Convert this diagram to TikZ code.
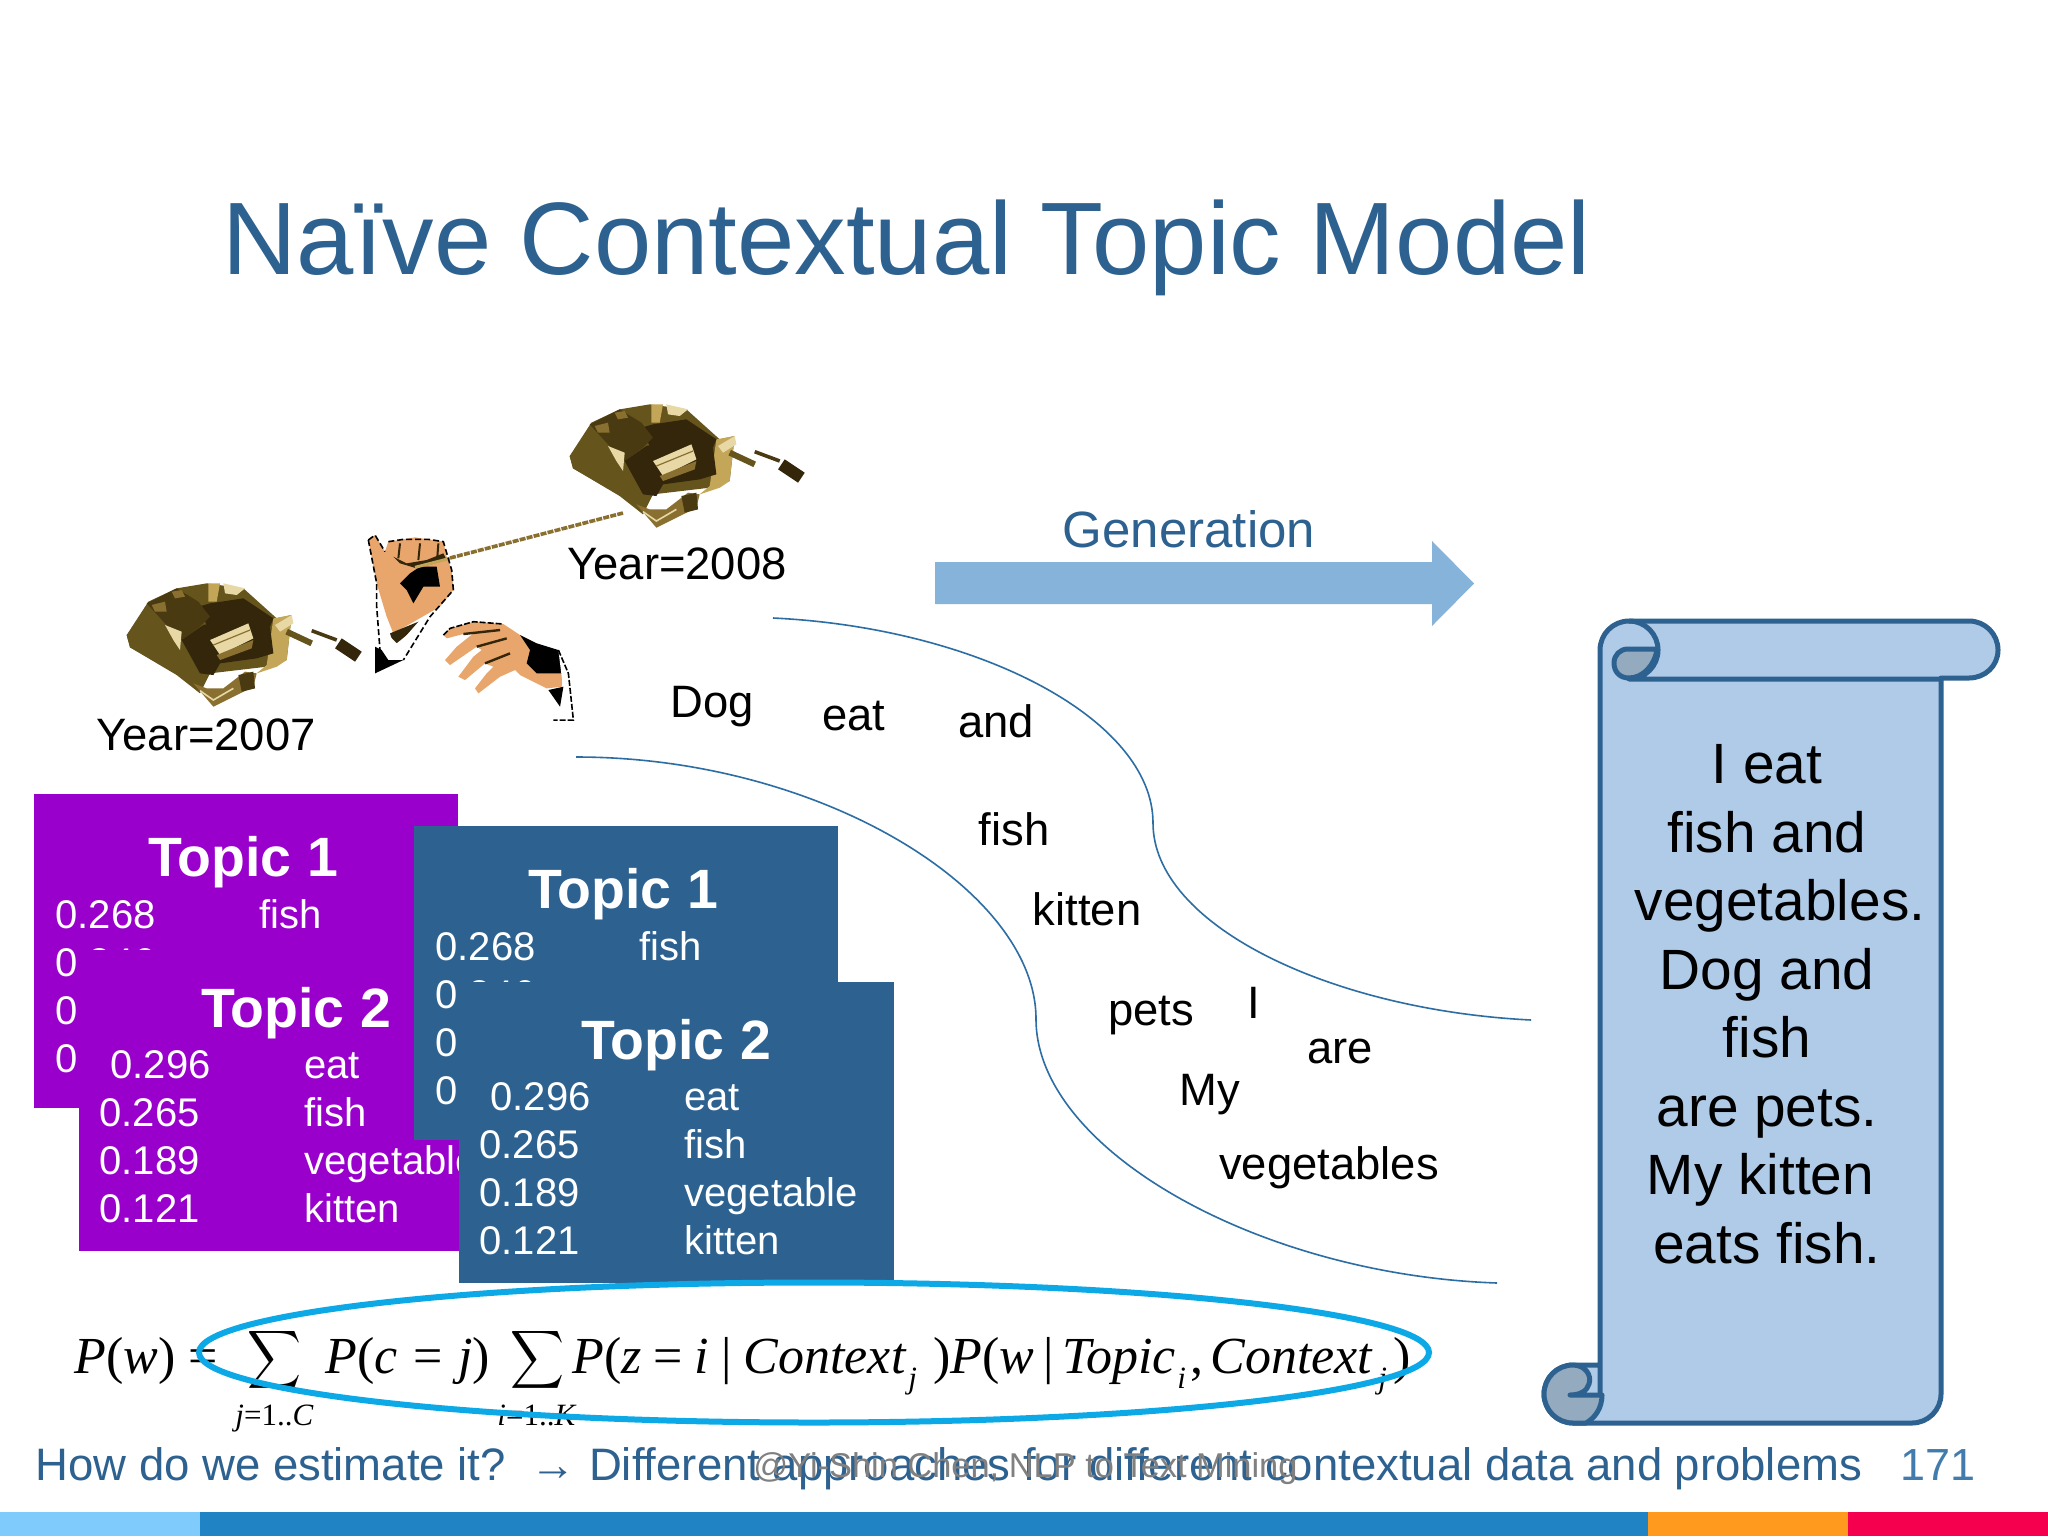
\documentclass[tikz,border=0pt]{standalone}
\usepackage{fontspec}
\setmainfont{Liberation Sans}
\newfontfamily\formulafont{Liberation Serif}

\definecolor{slideblue}{HTML}{2D6190}
\definecolor{cardpurple}{HTML}{9900CC}
\definecolor{scrollfill}{HTML}{AFCBE7}
\definecolor{scrollshade}{HTML}{93AABF}
\definecolor{arrowblue}{HTML}{85B3D9}
\definecolor{ringblue}{HTML}{0CA9E6}
\definecolor{curveblue}{HTML}{2C6DA4}
\definecolor{skin}{HTML}{E8A56C}
\definecolor{barlight}{HTML}{7FCBFC}
\definecolor{barblue}{HTML}{2083C4}
\definecolor{barorange}{HTML}{FF9A1E}
\definecolor{barpink}{HTML}{F5004F}
\definecolor{brassdark}{HTML}{33260B}
\definecolor{brassdeep}{HTML}{4A3A12}
\definecolor{brassolive}{HTML}{65541C}
\definecolor{brassmid}{HTML}{8A7030}
\definecolor{brassgold}{HTML}{C4A658}
\definecolor{brasspale}{HTML}{E7D8A5}

\tikzset{
    titletext/.style={anchor=base west, inner sep=0, text=slideblue, font=\fontsize{51.5}{60}\selectfont},
    footertext/.style={anchor=base west, inner sep=0, text=slideblue, font=\fontsize{22.75}{27}\selectfont},
    word/.style={anchor=base, inner sep=0, text=black, font=\fontsize{22.7}{26}\selectfont},
    cardhead/.style={anchor=base, inner sep=0, text=white, font=\bfseries\fontsize{27.7}{32}\selectfont},
    cardrow/.style={anchor=base west, inner sep=0, text=white, font=\fontsize{20}{24}\selectfont},
    formula/.style={anchor=base west, inner sep=0, text=black, font=\formulafont\fontsize{26}{30}\selectfont},
    formulasub/.style={anchor=base west, inner sep=0, text=black, font=\formulafont\itshape\fontsize{15.5}{18}\selectfont},
    scrollline/.style={draw=slideblue, line width=2.5pt, line join=round},
    % first card, second card; a card is placed by its shift
    topicone/.pic={
        \fill[#1] (34,794) rectangle (458,1108);
        \node[cardhead] (head) at (243,876) {Topic 1};
        \node[cardrow] (a1) at (55,928) {0.268};
        \node[cardrow] (b1) at (259,928) {fish};
        \node[cardrow] (a2) at (55,976) {0.246};
        \node[cardrow] (b2) at (259,976) {eat};
        \node[cardrow] (a3) at (55,1024) {0};
        \node[cardrow] (a4) at (55,1072) {0};
    },
    topictwo/.pic={
        \fill[#1] (78.5,950) rectangle (514,1251);
        \node[cardhead] (head) at (296,1027) {Topic 2};
        \node[cardrow] (a1) at (110,1078) {0.296};
        \node[cardrow] (b1) at (304,1078) {eat};
        \node[cardrow] (a2) at (99,1126) {0.265};
        \node[cardrow] (b2) at (304,1126) {fish};
        \node[cardrow] (a3) at (99,1174) {0.189};
        \node[cardrow] (b3) at (304,1174) {vegetable};
        \node[cardrow] (a4) at (99,1222) {0.121};
        \node[cardrow] (b4) at (304,1222) {kitten};
    },
    musicbox/.pic={
        % backing, plate and frame
        \fill[brassolive] (50,225) -- (115,125) -- (200,85) -- (290,70) -- (400,85) -- (500,175) -- (545,165) -- (530,300)
            -- (470,320) -- (300,340) -- (250,370) -- (60,262) -- cycle;
        \fill[brassolive] (50,225) -- (120,190) -- (215,240) -- (300,340) -- (270,400) -- (200,345) -- (60,262) -- cycle;
        \fill[brassmid] (250,370) -- (310,440) -- (430,380) -- (440,340) -- (405,335) -- (340,385) -- (290,385) -- cycle;
        \fill[brassdeep] (385,345) -- (430,335) -- (435,385) -- (395,395) -- cycle;
        \draw[brasspale, line width=0.8pt] (270,392) -- (310,420) -- (370,385);
        \fill[brassgold] (490,175) -- (545,165) -- (530,300) -- (500,320) -- (440,340) -- (470,315) -- cycle;
        % rear part and block
        \fill[brassdark] (300,130) -- (400,115) -- (490,175) -- (480,200) -- (290,195) -- (265,140) -- cycle;
        \fill[brassgold] (295,70) -- (330,70) -- (320,125) -- (295,125) -- cycle;
        \fill[brasspale] (340,70) -- (405,85) -- (380,105) -- (345,100) -- cycle;
        \fill[brassdeep] (110,130) -- (200,85) -- (265,125) -- (300,170) -- (270,200) -- (215,240) -- (165,190) -- cycle;
        \fill[brassmid] (125,135) -- (165,125) -- (170,155) -- (135,155) -- cycle (185,95) -- (215,90) -- (225,110) -- (195,115) -- cycle;
        \fill[brasspale] (165,195) -- (215,215) -- (210,270) -- (190,240) -- cycle;
        % cylinder
        \fill[brassdark] (215,240) -- (280,195) -- (420,165) -- (480,200) -- (490,280) -- (440,295) -- (330,310) -- (310,345) -- (270,340) -- cycle;
        \fill[brasspale] (300,240) -- (415,190) -- (430,235) -- (330,285) -- cycle;
        \fill[brassmid] (320,285) -- (430,240) -- (425,265) -- (330,300) -- cycle;
        \draw[brassmid, line width=0.6pt] (310,255) -- (420,210);
        % crank
        \fill[brasspale] (495,195) -- (545,165) -- (550,190) -- (510,215) -- cycle;
        \draw[brassolive, line width=3pt] (530,215) -- (605,250);
        \draw[brassdeep, line width=1.8pt] (605,212) -- (680,240);
        \draw[brassdark, line width=6pt] (685,250) -- (745,290);
    },
}

\begin{document}
\begin{tikzpicture}[x=0.5pt, y=-0.5pt]

                \useasboundingbox (0,0) rectangle (2048,1536);
                \fill[white] (0,0) rectangle (2048,1536);

                % Title
                \node[titletext] (title) at (222,274) {Naïve Contextual Topic Model};

                % Bottom bar
                \fill[barlight] (0,1512) rectangle (200,1536);
                \fill[barblue] (200,1512) rectangle (1648,1536);
                \fill[barorange] (1648,1512) rectangle (1848,1536);
                \fill[barpink] (1848,1512) rectangle (2048,1536);

                % Music boxes and chain
                \coordinate (chainbox) at (623,513);
                \coordinate (chainhand) at (450,558);
                \path (110,560) pic[x=0.1667pt, y=-0.1667pt] (box2007) {musicbox};
                \path (553,381) pic[x=0.1667pt, y=-0.1667pt] (box2008) {musicbox};
                \draw[brassmid, line width=1.8pt, dash pattern=on 3pt off 0.6pt] (chainhand) -- (chainbox);
                \node[word] (year2007) at (206,750) {Year=2007};
                \node[word] (year2008) at (677,579) {Year=2008};

                % Hands
                \begin{scope}[shift={(350,510)}, x=0.1667pt, y=-0.1667pt]
                \fill[skin] (55,90) -- (75,75) -- (105,125) -- (115,95) -- (160,88) -- (195,82) -- (235,88) -- (280,95) -- (290,140)
                    -- (305,180) -- (310,240) -- (270,290) -- (200,330) -- (130,370) -- (110,320) -- (80,220) -- cycle;
                \fill[black] (150,220) -- (180,190) -- (210,170) -- (260,170) -- (270,230) -- (220,230) -- (190,280) -- (170,240) -- cycle;
                \fill[brassdark] (130,140) -- (170,160) -- (230,150) -- (280,130) -- (290,150) -- (200,175) -- (150,160) -- cycle;
                \draw[brassdark, line width=1pt] (150,100) -- (145,145) (210,100) -- (205,150) (265,100) -- (262,140);
                \draw[brassgold, line width=1.5pt] (195,172) -- (300,145);
                \fill[brassdark] (120,370) -- (205,335) -- (135,415) -- cycle;
                \fill[white] (80,290) -- (110,370) -- (140,400) -- (240,320) -- (160,450) -- (110,450) -- (90,420) -- cycle;
                \fill[black] (75,410) -- (95,420) -- (115,450) -- (160,450) -- (75,490) -- cycle;
                \draw[black, line width=0.8pt, dash pattern=on 3pt off 1.5pt] (55,90) -- (75,75) -- (105,125) (115,95) -- (160,88) -- (235,88) -- (280,95)
                    -- (305,180) -- (310,240) -- (240,320) -- (160,450) (55,90) -- (80,220) -- (80,290) -- (90,420);

                \fill[skin] (280,375) -- (300,355) -- (370,335) -- (460,342) -- (510,375) -- (560,400) -- (620,420) -- (640,480) -- (635,530)
                    -- (590,535) -- (510,495) -- (495,480) -- (450,500) -- (385,550) -- (375,535) -- (410,490) -- (430,470) -- (405,460)
                    -- (345,510) -- (325,500) -- (370,440) -- (395,420) -- (380,410) -- (300,465) -- (285,450) -- (320,410) -- (370,370)
                    -- (340,372) -- (290,385) -- cycle;
                \fill[black] (510,375) -- (560,400) -- (625,420) -- (640,490) -- (560,490) -- (530,460) -- (540,420) -- cycle;
                \draw[brassdark, line width=1.2pt] (340,372) -- (450,360) (380,410) -- (470,385) (405,460) -- (480,430);
                \fill[white] (625,420) -- (655,490) -- (670,630) -- (610,630) -- (600,570) -- (640,540) -- cycle;
                \fill[black] (595,540) -- (640,530) -- (630,590) -- cycle;
                \draw[black, line width=0.8pt, dash pattern=on 3pt off 1pt] (280,375) -- (300,355) -- (370,335) -- (460,342) (625,420) -- (655,490) -- (670,630) -- (610,630);
                \end{scope}

                % Generation arrow
                \node[anchor=base, inner sep=0, text=slideblue, font=\fontsize{25.5}{30}\selectfont] (generation) at (1189,547) {Generation};
                \fill[arrowblue] (935,562) -- (1432,562) -- (1432,541) -- (1474,583.5) -- (1432,626) -- (1432,604) -- (935,604) -- cycle;

                % Words between the curves
                \coordinate (up1) at (773,618);
                \coordinate (up2) at (1153,823);
                \coordinate (up3) at (1531,1020);
                \coordinate (low1) at (576,757);
                \coordinate (low2) at (1036,1019);
                \coordinate (low3) at (1497,1283);
                \draw[curveblue, line width=0.8pt] (up1) .. controls (980,628) and (1153,720) .. (up2) .. controls (1153,925) and (1330,1010) .. (up3);
                \draw[curveblue, line width=0.8pt] (low1) .. controls (820,757) and (1036,890) .. (low2) .. controls (1036,1150) and (1260,1275) .. (low3);
                \node[word] (dog) at (712,717) {Dog};
                \node[word] (eat) at (854,730) {eat};
                \node[word] (and) at (996,737) {and};
                \node[word] (fish) at (1014,845) {fish};
                \node[word] (kitten) at (1087,925) {kitten};
                \node[word] (pets) at (1151,1025) {pets};
                \node[word] (i) at (1254,1018) {I};
                \node[word] (are) at (1340,1063) {are};
                \node[word] (my) at (1210,1105) {My};
                \node[word] (vegetables) at (1329,1179) {vegetables};

                % Topic cards
                \pic (purpleone) at (0,0) {topicone=cardpurple};
                \pic (purpletwo) at (0,0) {topictwo=cardpurple};
                \pic (blueone) at (380,32) {topicone=slideblue};
                \pic (bluetwo) at (380,32) {topictwo=slideblue};

                % Scroll
                \path[fill=scrollfill, scrollline] (1600,650) .. controls (1600,634) and (1613,621) .. (1629,621) -- (1969,621)
                    .. controls (1985,621) and (1998,634) .. (1998,650) .. controls (1998,666) and (1985,678) .. (1969,678) -- (1941,678)
                    -- (1941,1394) .. controls (1941,1410) and (1928,1423) .. (1912,1423) -- (1573,1423)
                    .. controls (1557,1423) and (1544,1410) .. (1544,1394) .. controls (1544,1378) and (1557,1365) .. (1573,1365)
                    -- (1600,1365) -- (1600,1395) (1600,1365) -- (1600,650);
                \path[fill=scrollshade, scrollline] (1657,649) .. controls (1655,665) and (1643,678) .. (1629,678) .. controls (1620,678) and (1614,672) .. (1614,663)
                    .. controls (1614,655) and (1620,649) .. (1628,649) -- cycle;
                \draw[scrollline] (1629,621) .. controls (1645,621) and (1658,634) .. (1658,650) .. controls (1658,666) and (1645,679) .. (1629,679) -- (1941,679);
                \path[fill=scrollshade, scrollline] (1573,1423) .. controls (1557,1423) and (1544,1410) .. (1544,1394) .. controls (1544,1378) and (1557,1365) .. (1573,1365)
                    .. controls (1585,1365) and (1592,1375) .. (1589,1384) .. controls (1587,1391) and (1580,1395) .. (1570,1395) -- (1602,1395)
                    .. controls (1602,1408) and (1595,1418) .. (1586,1423) -- cycle;
                \node[inner sep=0, align=center, text=black, font=\fontsize{28.4}{34.25}\selectfont] (scrolltext) at (1767,1004)
                    {I eat\\fish and\\\hspace*{13pt}vegetables.\\Dog and\\fish\\are pets.\\My kitten\hspace*{6.5pt}\mbox{}\\eats fish.};

                % Formula
                \node[formula] (pw) at (74,1373) {\textit{P}(\textit{w})};
                \node[formula] (equal) at (188,1373) {=};
                \node[inner sep=0] (sumc) at (274,1359.5) {\resizebox*{27pt}{32.5pt}{$\displaystyle\sum$}};
                \node[formula] (pc) at (325,1373) {\textit{P}(\textit{c}\hspace{.3em}=\hspace{.3em}\textit{j})};
                \node[inner sep=0] (sumk) at (537,1359.5) {\resizebox*{27pt}{32.5pt}{$\displaystyle\sum$}};
                \node[formula] (pz) at (572,1373) {\textit{P}(\textit{z}\hspace{.23em}=\hspace{.23em}\textit{i}\hspace{.23em}|\hspace{.23em}\textit{Context}};
                \node[formulasub] (subj) at (908,1388) {j};
                \node[formula] (pw2) at (933,1373) {)\textit{P}(\textit{w}\,|\,\textit{Topic}};
                \node[formulasub] (subi) at (1177,1388) {i};
                \node[formula] (comma) at (1190,1373) {,};
                \node[formula] (context) at (1210,1373) {\textit{Context}};
                \node[formulasub] (subj2) at (1378,1388) {j};
                \node[formula] (close) at (1393,1373) {)};
                \node[formulasub] (limc) at (235,1425) {j\upshape=1..\itshape C};
                \node[formulasub] (limk) at (497,1425) {i\upshape=1..\itshape K};

                % Ring round the formula
                \draw[ringblue, line width=3pt] (814,1352.5) ellipse [x radius=615, y radius=70];

                % Footer
                \node[footertext] (question) at (35,1480) {How do we estimate it?\ \ → Different approaches for different contextual data and problems};
                \node[anchor=base west, inner sep=0, text=gray, font=\fontsize{17.2}{20}\selectfont] (mark) at (753,1477) {@Yi-Shin Chen, NLP to Text Mining};
                \node[anchor=base west, inner sep=0, text=curveblue!90!white, font=\fontsize{22.5}{27}\selectfont] (page) at (1900,1480) {171};

\end{tikzpicture}
\end{document}
